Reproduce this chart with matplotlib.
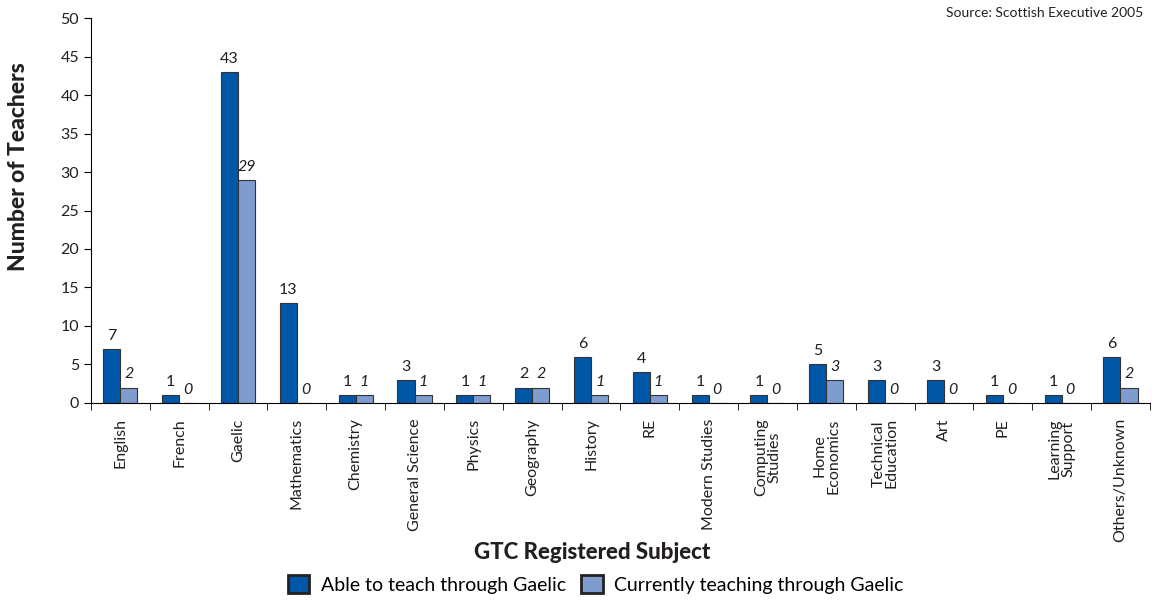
import matplotlib
matplotlib.use("Agg")
import matplotlib.pyplot as plt
import numpy as np
from matplotlib.patches import Patch

subjects = ["English", "French", "Gaelic", "Mathematics", "Chemistry",
            "General Science", "Physics", "Geography", "History", "RE",
            "Modern Studies", "Computing\nStudies", "Home\nEconomics",
            "Technical\nEducation", "Art", "PE", "Learning\nSupport",
            "Others/Unknown"]
able = [7, 1, 43, 13, 1, 3, 1, 2, 6, 4, 1, 1, 5, 3, 3, 1, 1, 6]
current = [2, 0, 29, 0, 1, 1, 1, 2, 1, 1, 0, 0, 3, 0, 0, 0, 0, 2]

DARK = "#0057a8"
LIGHT = "#7f9ccf"
TEXT = "#231f20"

plt.rcParams["font.family"] = ["Lato", "DejaVu Sans"]

fig = plt.figure(figsize=(11.61, 6.01), dpi=100)
ax = fig.add_axes([0.0784, 0.3295, 0.912, 0.6405])

x = np.arange(len(subjects))
w = 0.29
b1 = ax.bar(x - w / 2, able, w, color=DARK, edgecolor="#333333", linewidth=0.8)
b2 = ax.bar(x + w / 2, current, w, color=LIGHT, edgecolor="#333333", linewidth=0.8)

for bar, v in zip(b1, able):
    ax.text(bar.get_x() + bar.get_width() / 2, v + 0.8, f"{v}",
            ha="center", va="bottom", fontsize=11.5, color=TEXT)
for bar, v in zip(b2, current):
    ax.text(bar.get_x() + bar.get_width() / 2, v + 0.8, f"{v}",
            ha="center", va="bottom", fontsize=11.5, color=TEXT, style="italic")

ax.set_xlim(-0.5, len(subjects) - 0.5)
ax.set_ylim(0, 50)
ax.set_yticks(range(0, 51, 5))
ax.set_xticks(x)
ax.set_xticklabels(subjects, rotation=90, fontsize=11.5, color=TEXT,
                   linespacing=0.95)
ax.set_xticks(np.arange(len(subjects) + 1) - 0.5, minor=True)
ax.tick_params(axis="x", which="major", length=0, pad=11)
ax.tick_params(axis="x", which="minor", length=5, direction="out")
ax.tick_params(axis="y", length=5, labelsize=11.5, labelcolor=TEXT)
for s in ("top", "right"):
    ax.spines[s].set_visible(False)

fig.text(0.016, 0.722, "Number of Teachers", rotation=90, ha="center",
         va="center", fontsize=16.5, fontweight="black", color=TEXT)
fig.text(0.51, 0.08, "GTC Registered Subject", ha="center", va="center",
         fontsize=16, fontweight="black", color=TEXT)
fig.text(0.985, 0.988, "Source: Scottish Executive 2005", ha="right", va="top",
         fontsize=10, color=TEXT)

handles = [
    Patch(facecolor=DARK, edgecolor="#222222", linewidth=2,
          label="Able to teach through Gaelic"),
    Patch(facecolor=LIGHT, edgecolor="#222222", linewidth=2,
          label="Currently teaching through Gaelic"),
]
fig.legend(handles=handles, loc="center", bbox_to_anchor=(0.513, 0.028),
           ncol=2, frameon=False, fontsize=14, handlelength=1.1,
           handleheight=1.1, handletextpad=0.6, columnspacing=0.8)

fig.savefig("out.png", dpi=100)
